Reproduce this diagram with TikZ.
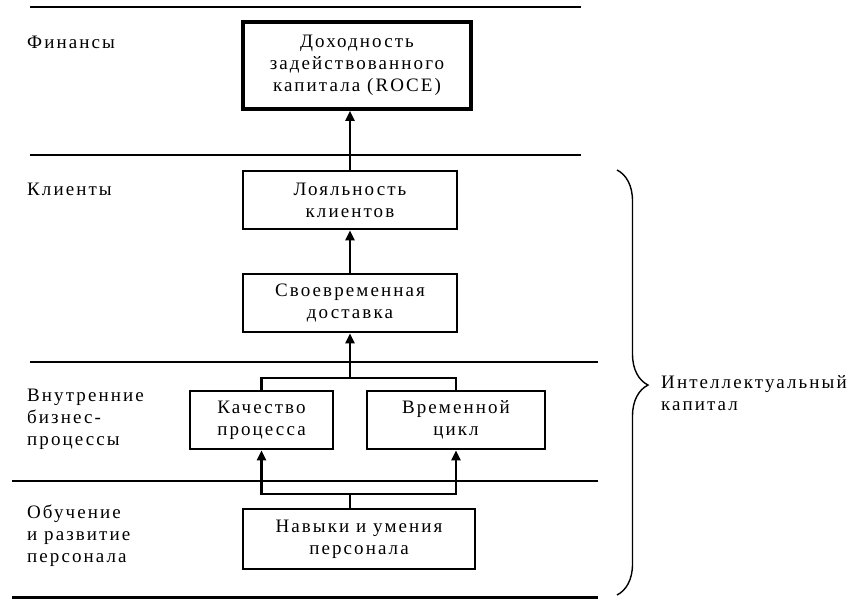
\documentclass[tikz,border=0pt]{standalone}
\usepackage{fontspec}
\setmainfont{Liberation Serif}[LetterSpace=11]
\usetikzlibrary{arrows.meta,positioning,decorations.pathreplacing}
\tikzset{
	box/.style={draw, line width=2.8pt, align=center, inner sep=0pt, minimum height=58pt},
	lane/.style={anchor=west, align=left, inner sep=0pt},
	sep/.style={line width=2.2pt},
	flow/.style={-{Triangle[length=10pt, width=9pt]}, line width=2.2pt},
	link/.style={line width=2.2pt},
	curly/.style={decorate, decoration={brace, amplitude=31pt, aspect=0.506}, line width=1.4pt}
}

\begin{document}
\begin{tikzpicture}[x=1pt, y=-1pt, font=\fontsize{19pt}{22pt}\selectfont]
	\useasboundingbox (0,0) rectangle (858,599);
	% perspective separators
	\draw[sep] (30,7) -- (581,7);
	\draw[sep] (30,155) -- (581,155);
	\draw[sep] (30,362) -- (598,362);
	\draw[sep] (12,481) -- (598,481);
	\draw[sep] (12,597.5) -- (598,597.5);
	% perspectives
	\node[lane] (fin) at (27,42) {Финансы};
	\node[lane] (cli) at (27,189) {Клиенты};
	\node[lane] (proc) at (27,419) {Внутренние\\бизнес-\\процессы};
	\node[lane] (learn) at (27,536) {Обучение\\и развитие\\персонала};
	% goals
	\node[box, line width=3.6pt, minimum width=228pt, minimum height=87pt] (roce) at (357,65.5) {Доходность\\задействованного\\капитала (ROCE)};
	\node[box, minimum width=214pt] (loyal) at (350,200) {Лояльность\\клиентов};
	\node[box, minimum width=214pt] (deliv) at (350,303) {Своевременная\\доставка};
	\node[box, minimum width=143pt] (quality) at (261.5,420) {Качество\\процесса};
	\node[box, minimum width=178pt] (cycle) at (456,420) {Временной\\цикл};
	\node[box, minimum width=232pt, minimum height=60pt] (skills) at (359,539) {Навыки и умения\\персонала};
	% links
	\coordinate (split) at (350,378);
	\coordinate (merge) at (350,494);
	\draw[flow] (loyal.north) -- (loyal.north |- roce.south);
	\draw[flow] (deliv.north) -- (loyal.south);
	\draw[flow] (split) -- (deliv.south);
	\draw[link] (quality.north) |- (split) -| (cycle.north);
	\draw[link] (merge |- skills.north) -- (merge);
	\draw[flow] (merge) -| (quality.south);
	\draw[flow] (merge) -| (cycle.south);
	% intellectual capital
	\coordinate (bracetop) at (617,170);
	\coordinate (bracebot) at (617,595);
	\draw[curly] (bracetop) -- (bracebot);
	\node[lane] (intel) at (661,393) {Интеллектуальный\\капитал};
\end{tikzpicture}
\end{document}
